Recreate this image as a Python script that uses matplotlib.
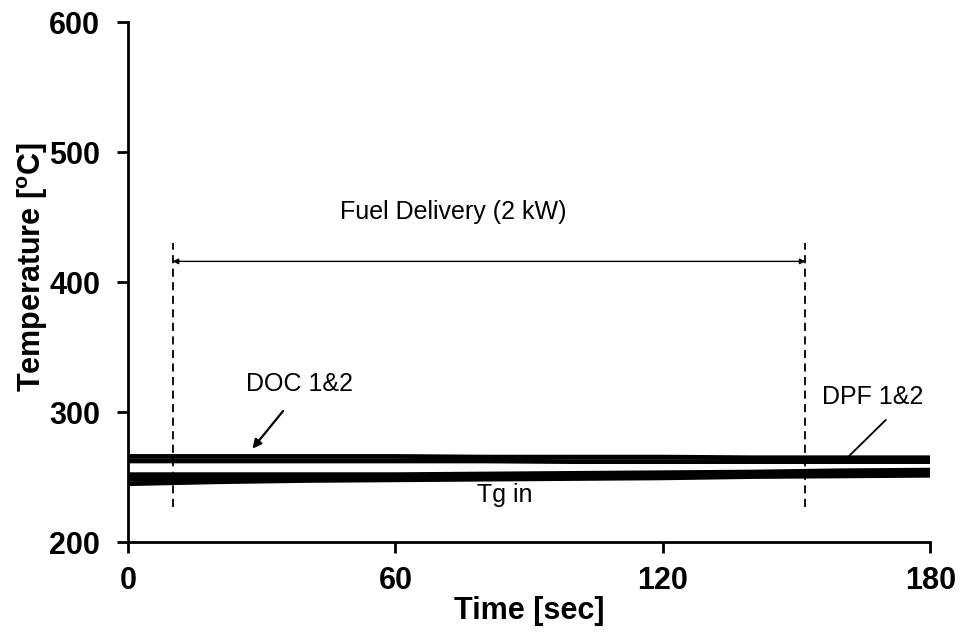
import matplotlib.pyplot as plt

plt.rcParams['font.family'] = ['Liberation Sans', 'DejaVu Sans']

# time [sec] and temperatures [C]
t = [0, 20, 40, 60, 80, 100, 120, 140, 160, 180]
doc1 = [266, 266, 266, 266, 265.5, 265.5, 265.5, 265, 265, 265]
doc2 = [262.5, 262.5, 262.5, 262.5, 262.5, 262, 262, 262, 262, 262]
dpf1 = [252, 252, 252, 252, 252.5, 253, 253.5, 254, 255, 255.5]
dpf2 = [248.5, 249, 249, 249.5, 250, 250.5, 251, 252, 253, 253.5]
tg_in = [245, 246.5, 247.5, 248, 248.5, 249, 249.5, 250.5, 251, 251.5]

fuel_on = 10
fuel_off = 152

fig, ax = plt.subplots(figsize=(9.63, 6.32), dpi=100)
fig.subplots_adjust(left=0.133, right=0.966, top=0.965, bottom=0.142)

for y in [doc1, doc2, dpf1, dpf2, tg_in]:
    ax.plot(t, y, color='black', lw=3.4, solid_capstyle='butt')

# fuel delivery markers
for x in [fuel_on, fuel_off]:
    ax.plot([x, x], [227, 430], color='black', lw=1.3, ls=(0, (4.5, 3)))
ax.annotate('', xy=(fuel_on, 416), xytext=(fuel_off, 416),
            arrowprops=dict(arrowstyle='<|-|>', color='black', lw=1.0,
                            mutation_scale=8, shrinkA=0, shrinkB=0))
ax.text(73, 454, 'Fuel Delivery (2 kW)', ha='center', va='center', fontsize=18)

ax.text(38.5, 321.5, 'DOC 1&2', ha='center', va='center', fontsize=18)
ax.annotate('', xy=(27.9, 272), xytext=(34.8, 301),
            arrowprops=dict(arrowstyle='-|>', color='black', lw=1.6,
                            mutation_scale=13, shrinkA=0, shrinkB=0))
ax.text(167, 311.5, 'DPF 1&2', ha='center', va='center', fontsize=18)
ax.plot([170, 160.5], [294, 262], color='black', lw=1.3)
ax.text(84.6, 236, 'Tg in', ha='center', va='center', fontsize=18)

ax.set_xlim(0, 180)
ax.set_ylim(200, 600)
ax.set_xticks([0, 60, 120, 180])
ax.set_yticks([200, 300, 400, 500, 600])
ax.spines['top'].set_visible(False)
ax.spines['right'].set_visible(False)
ax.spines['left'].set_linewidth(2)
ax.spines['bottom'].set_linewidth(2)
ax.tick_params(axis='both', width=2, length=8, labelsize=22)
ax.tick_params(axis='y', pad=12)
ax.tick_params(axis='x', pad=9)
for lab in ax.get_xticklabels() + ax.get_yticklabels():
    lab.set_fontweight('bold')
ax.set_xlabel('Time [sec]', fontsize=22, fontweight='bold', labelpad=0)
ax.set_ylabel('Temperature [$\\mathregular{^o}$C]', fontsize=22, fontweight='bold')
ax.yaxis.set_label_coords(-0.097, 0.53)

fig.savefig('out.png', dpi=100)
